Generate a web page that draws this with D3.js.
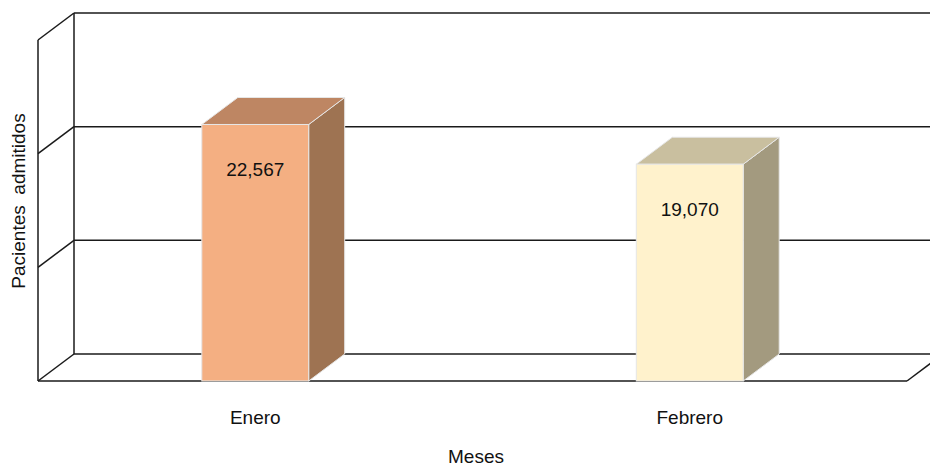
<!DOCTYPE html>
<html>
<head>
<meta charset="utf-8">
<script src="https://cdn.jsdelivr.net/npm/d3@7"></script>
<style>
  body { margin: 0; background: #fff; }
  text { font-family: "Liberation Sans", Arial, sans-serif; fill: #111; }
</style>
</head>
<body>
<svg width="930" height="467"></svg>
<script>
const months = ["Enero", "Febrero"];
const patients = [22567, 19070];
const ticks = [0, 10000, 20000, 30000];
const frontColors = ["#f4af82", "#fff2cc"];
const sideColors = ["#9e7352", "#a39a7f"];
const topColors = ["#be8663", "#c9bf9f"];

const width = 930;
const height = 467;
const depth = { dx: 36, dy: -27 };
const plot = { left: 38, right: 907, top: 40, bottom: 381 };

const svg = d3.select("svg");

const x = d3.scaleBand()
  .domain(months)
  .range([plot.left, plot.right])
  .paddingInner(0.754)
  .paddingOuter(0.377);

const y = d3.scaleLinear()
  .domain([0, d3.max(ticks)])
  .range([plot.bottom, plot.top]);

const frame = svg.append("g")
  .attr("fill", "none")
  .attr("stroke", "#1a1a1a")
  .attr("stroke-width", 1.5);

// back wall left edge and left wall front edge
frame.append("line")
  .attr("x1", plot.left + depth.dx).attr("x2", plot.left + depth.dx)
  .attr("y1", y(30000) + depth.dy).attr("y2", y(0) + depth.dy);
frame.append("line")
  .attr("x1", plot.left).attr("x2", plot.left)
  .attr("y1", y(30000)).attr("y2", y(0));

// gridlines: back wall line + diagonal on left wall
ticks.forEach(t => {
  frame.append("line")
    .attr("x1", plot.left + depth.dx).attr("x2", plot.right + depth.dx)
    .attr("y1", y(t) + depth.dy).attr("y2", y(t) + depth.dy);
  frame.append("line")
    .attr("x1", plot.left).attr("x2", plot.left + depth.dx)
    .attr("y1", y(t)).attr("y2", y(t) + depth.dy);
});

// front floor edge and right diagonal
frame.append("line")
  .attr("x1", plot.left).attr("x2", plot.right)
  .attr("y1", y(0)).attr("y2", y(0));
frame.append("line")
  .attr("x1", plot.right).attr("x2", plot.right + depth.dx)
  .attr("y1", y(0)).attr("y2", y(0) + depth.dy);

// bars
const bars = svg.append("g")
  .selectAll("g")
  .data(months.map((m, i) => ({ m, v: patients[i], i })))
  .enter()
  .append("g");

bars.append("path")
  .attr("fill", d => sideColors[d.i])
  .attr("stroke", "#e6e6e6")
  .attr("stroke-width", 1)
  .attr("d", d => {
    const x1 = x(d.m) + x.bandwidth();
    return `M${x1},${y(d.v)} L${x1 + depth.dx},${y(d.v) + depth.dy} L${x1 + depth.dx},${y(0) + depth.dy} L${x1},${y(0)} Z`;
  });

bars.append("path")
  .attr("fill", d => topColors[d.i])
  .attr("stroke", "#e6e6e6")
  .attr("stroke-width", 1)
  .attr("d", d => {
    const x0 = x(d.m), x1 = x0 + x.bandwidth(), yt = y(d.v);
    return `M${x0},${yt} L${x0 + depth.dx},${yt + depth.dy} L${x1 + depth.dx},${yt + depth.dy} L${x1},${yt} Z`;
  });

bars.append("rect")
  .attr("fill", d => frontColors[d.i])
  .attr("stroke", "#e6e6e6")
  .attr("stroke-width", 1)
  .attr("x", d => x(d.m))
  .attr("y", d => y(d.v))
  .attr("width", x.bandwidth())
  .attr("height", d => y(0) - y(d.v));

bars.append("text")
  .attr("x", d => x(d.m) + x.bandwidth() / 2)
  .attr("y", d => y(d.v) + 52)
  .attr("text-anchor", "middle")
  .attr("font-size", "19px")
  .text(d => d3.format(",")(d.v));

// category labels
svg.append("g")
  .selectAll("text")
  .data(months)
  .enter()
  .append("text")
  .attr("x", d => x(d) + x.bandwidth() / 2)
  .attr("y", 424)
  .attr("text-anchor", "middle")
  .attr("font-size", "19px")
  .text(d => d);

svg.append("text")
  .attr("x", 476)
  .attr("y", 463)
  .attr("text-anchor", "middle")
  .attr("font-size", "19px")
  .text("Meses");

svg.append("text")
  .attr("transform", "translate(25,201) rotate(-90)")
  .attr("text-anchor", "middle")
  .attr("font-size", "19px")
  .attr("xml:space", "preserve")
  .style("white-space", "pre")
  .text("Pacientes  admitidos");
</script>
</body>
</html>
